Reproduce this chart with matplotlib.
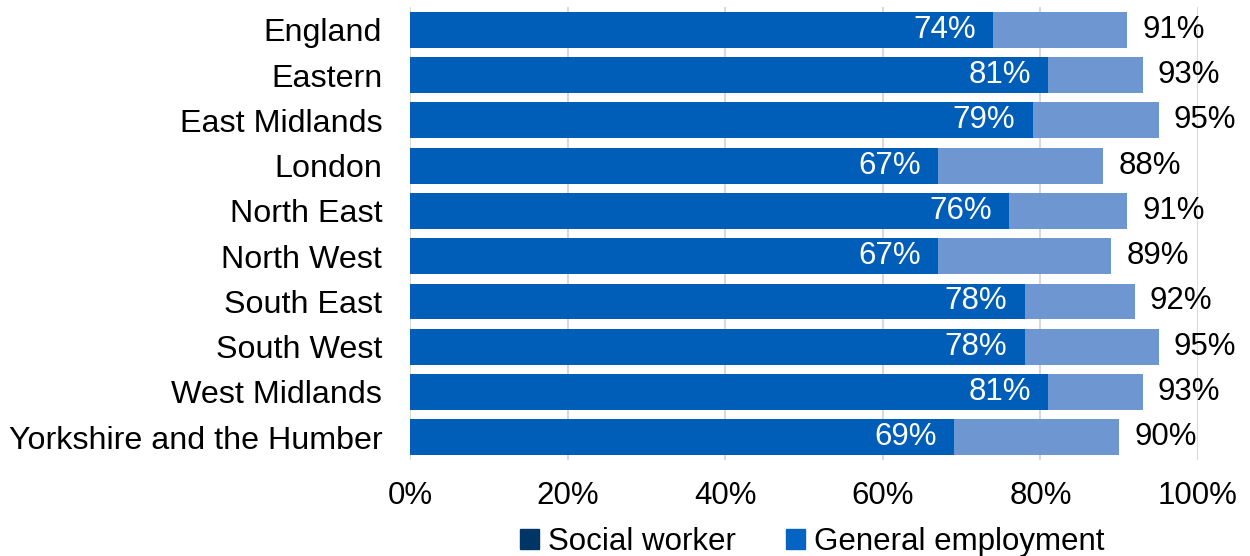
import matplotlib
matplotlib.use("Agg")
import matplotlib.pyplot as plt
from matplotlib.patches import Patch

regions = ["England", "Eastern", "East Midlands", "London", "North East",
           "North West", "South East", "South West", "West Midlands",
           "Yorkshire and the Humber"]
social_worker = [74, 81, 79, 67, 76, 67, 78, 78, 81, 69]
general_employment = [91, 93, 95, 88, 91, 89, 92, 95, 93, 90]
xticks = [0, 20, 40, 60, 80, 100]
legend_labels = ["Social worker", "General employment"]

plt.rcParams['font.family'] = ['Liberation Sans', 'DejaVu Sans']

fig = plt.figure(figsize=(12.5, 5.56), dpi=100)
ax = fig.add_axes([0.328, 0.173, 0.6304, 0.814])

dark = "#005EB8"
light = "#6E97D2"
y = list(range(len(regions)))

ax.barh(y, general_employment, height=0.79, color=light, zorder=2)
ax.barh(y, social_worker, height=0.79, color=dark, zorder=3)

for yi, s, g in zip(y, social_worker, general_employment):
    ax.text(s - 2.2, yi, f"{s}%", ha="right", va="center", color="white",
            fontsize=22.5, zorder=4)
    ax.text(g + 1.9, yi, f"{g}%", ha="left", va="center", color="black",
            fontsize=22.5, zorder=4)

ax.set_xlim(0, 100)
ax.set_ylim(len(regions) - 0.5, -0.5)
ax.set_yticks(y)
ax.set_yticklabels(regions, fontsize=23.2)
ax.set_xticks(xticks)
ax.set_xticklabels([f"{t}%" for t in xticks], fontsize=22.5)
ax.tick_params(axis="y", length=0, pad=20)
ax.tick_params(axis="x", length=0, pad=15)
ax.grid(axis="x", color="#D9D9D9", linewidth=1.5, zorder=0)
for sp in ax.spines.values():
    sp.set_visible(False)

handles = [Patch(color="#003566"), Patch(color="#0563C1")]
fig.legend(handles, legend_labels, loc="center", bbox_to_anchor=(0.65, 0.025),
           ncol=2, frameon=False, fontsize=22.5, handlelength=0.6,
           handleheight=0.6, handletextpad=0.3, columnspacing=1.6)

fig.savefig("out.png", dpi=100)
